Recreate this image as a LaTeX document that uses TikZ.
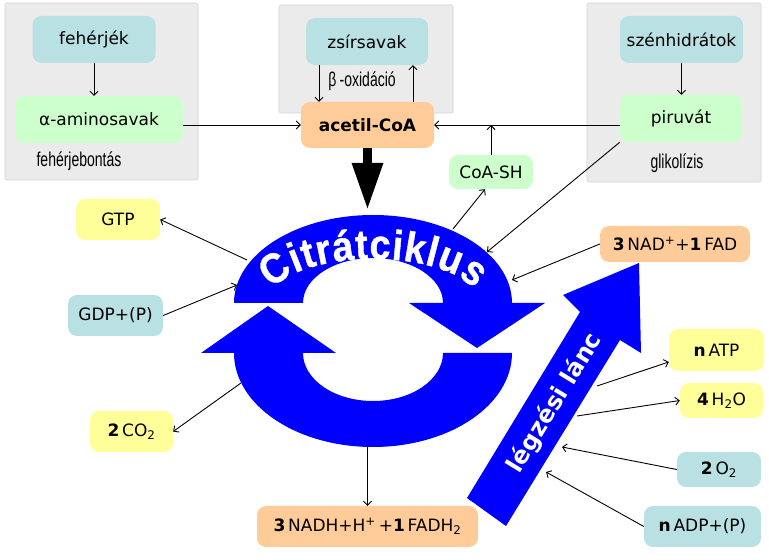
\documentclass[tikz,border=0pt]{standalone}
\usepackage{fontspec}
\setmainfont{DejaVu Sans}
\newfontfamily\narrowfont[FakeStretch=0.7]{Liberation Sans}
\newfontfamily\citfont[FakeStretch=0.9,FakeBold=1]{Liberation Sans}
\usetikzlibrary{arrows.meta,decorations.text}
\definecolor{nblue}{HTML}{B9E0E3}
\definecolor{ngreen}{HTML}{CCFFCC}
\definecolor{norange}{HTML}{FFCC99}
\definecolor{nyellow}{HTML}{FFFF99}
\definecolor{bgray}{HTML}{EBEBEB}
\definecolor{bgrayline}{HTML}{D2D2D2}
\definecolor{cycblue}{HTML}{0000FF}
\begin{document}
\begin{tikzpicture}[x=1pt,y=1pt,
  font=\fontsize{17}{20}\selectfont,
  graybox/.style={fill=bgray,draw=bgrayline,line width=0.6pt,rounded corners=2pt},
  mbox/.style={rounded corners=9pt,inner sep=0pt,align=center},
  bluebox/.style={mbox,fill=nblue},
  greenbox/.style={mbox,fill=ngreen},
  orangebox/.style={mbox,fill=norange},
  yellowbox/.style={mbox,fill=nyellow},
  lbl/.style={font=\narrowfont\fontsize{20}{22}\selectfont},
  arr/.style={line width=0.9pt,-{Straight Barb[length=4pt,width=8pt]}},
  bigblue/.style={fill=cycblue}]
\useasboundingbox (0,0) rectangle (769,560);

% gray process boxes
\draw[graybox] (5,380) rectangle (198,557);
\draw[graybox] (279,447) rectangle (453,555);
\draw[graybox] (587,378) rectangle (761,557);

% nodes
\node[bluebox,minimum width=123pt,minimum height=47pt] (feh) at (94,520.5) {fehérjék};
\node[greenbox,minimum width=168pt,minimum height=47pt] (amino) at (99,440.5) {α-aminosavak};
\node[bluebox,minimum width=122pt,minimum height=47pt] (zsir) at (367,518.5) {zsírsavak};
\node[orangebox,minimum width=133pt,minimum height=46pt,font=\bfseries\fontsize{17}{20}\selectfont] (acetil) at (367.5,435) {acetil-CoA};
\node[bluebox,minimum width=123pt,minimum height=47pt] (szen) at (681.5,520.5) {szénhidrátok};
\node[greenbox,minimum width=122pt,minimum height=47pt] (piru) at (681,441.5) {piruvát};
\node[greenbox,minimum width=84pt,minimum height=34pt] (coash) at (491,388) {CoA-SH};

\node[yellowbox,minimum width=84pt,minimum height=41pt] (gtp) at (118,340.5) {GTP};
\node[bluebox,minimum width=95pt,minimum height=41pt] (gdp) at (115.5,244.5) {GDP+(P)};
\node[yellowbox,minimum width=83pt,minimum height=41pt] (co2) at (131.5,128.5) {\textbf{2}\,CO\textsubscript{2}};
\node[orangebox,minimum width=221pt,minimum height=41pt] (nadh) at (367.5,33.5) {\textbf{3}\,NADH+H\textsuperscript{+}\,+\textbf{1}\,FADH\textsubscript{2}};
\node[orangebox,minimum width=150pt,minimum height=36pt] (nad) at (675,316) {\textbf{3}\,NAD\textsuperscript{+}+\textbf{1}\,FAD};
\node[yellowbox,minimum width=95pt,minimum height=42pt] (atp) at (716.5,210) {\textbf{n}\,ATP};
\node[yellowbox,minimum width=83pt,minimum height=35pt] (h2o) at (721.5,159.5) {\textbf{4}\,H\textsubscript{2}O};
\node[bluebox,minimum width=84pt,minimum height=35pt] (o2) at (719,90.5) {\textbf{2}\,O\textsubscript{2}};
\node[bluebox,minimum width=117pt,minimum height=41pt] (adp) at (702.5,33.5) {\textbf{n}\,ADP+(P)};

% process labels
\node[lbl] (lfeh) at (79,399) {fehérjebontás};
\node[lbl] (lbeta) at (362,479) {β\,-oxidáció};
\node[lbl] (lglik) at (677,397) {glikolízis};

% top connectors
\draw[arr] (feh.south) -- (feh.south |- amino.north);
\draw[arr] (amino.east |- acetil.west) -- (acetil.west);
\draw[arr] (piru.west |- acetil.east) -- (acetil.east);
\draw[arr] ([xshift=-48pt]zsir.south) -- ([xshift=-48pt]zsir.south |- acetil.north);
\draw[arr] ([xshift=46pt]zsir.south |- acetil.north) -- ([xshift=46pt]zsir.south);
\draw[arr] (szen.south) -- (szen.south |- piru.north);
\draw[arr] (coash.north) -- (coash.north |- acetil.east);

% big black arrow into the cycle
\coordinate (cyctop) at (367.5,350);
\draw[line width=9pt,-{Triangle[length=47pt,width=29pt]}] (acetil.south) -- (cyctop);

% citrate cycle: upper arrow
\path[bigblue] (234,257) arc[start angle=180,end angle=0,x radius=139,y radius=88]
  -- (545,257) -- (477,212) -- (409,257) -- (443,257)
  arc[start angle=0,end angle=180,x radius=70,y radius=45] -- cycle;
% lower arrow
\path[bigblue] (234,207) -- (201,207) -- (268,254) -- (336,207) -- (303,207)
  arc[start angle=180,end angle=360,x radius=70,y radius=48]
  -- (512,207) arc[start angle=0,end angle=-180,x radius=139,y radius=94] -- cycle;
\path[decorate,decoration={text along path,
   text={|\citfont\bfseries\fontsize{42}{42}\selectfont|Citrátciklus},
   text color=white, text align={fit to path}}]
  (373,257) ++(162:106 and 44) arc[start angle=162,end angle=18,x radius=106,y radius=44];

% respiratory chain arrow
\path[bigblue] (467,62) -- (506,34) -- (620,220) -- (641,207) -- (639,297)
  -- (563,265) -- (580,248) -- cycle;
\node[rotate=58.5,text=white,font=\bfseries\fontsize{24}{26}\selectfont] (legz) at (555,157) {légzési lánc};

% cycle connectors
\coordinate (cGTP) at (247,300);
\coordinate (cGDP) at (237,275);
\coordinate (cCO2) at (241,177);
\coordinate (cNADH) at (367.5,113);
\coordinate (cCoA) at (453,331);
\coordinate (cPiru) at (487,308);
\coordinate (cNAD) at (512,280);
\draw[arr] (cGTP) -- (gtp.east);
\draw[arr] (gdp.east) -- (cGDP);
\draw[arr] (cCO2) -- (co2.east);
\draw[arr] (cNADH) -- (nadh.north);
\draw[arr] (cCoA) -- ([xshift=-6pt]coash.south);
\draw[arr] (piru.south west) -- (cPiru);
\draw[arr] (nad.west) -- (cNAD);

% respiratory chain connectors
\coordinate (lATP) at (597,174);
\coordinate (lH2O) at (577,144);
\coordinate (lO2) at (562,113);
\coordinate (lADP) at (546,88);
\draw[arr] (lATP) -- ([yshift=-12pt]atp.west);
\draw[arr] (lH2O) -- (h2o.west);
\draw[arr] (o2.west) -- (lO2);
\draw[arr] (adp.west) -- (lADP);
\end{tikzpicture}
\end{document}
